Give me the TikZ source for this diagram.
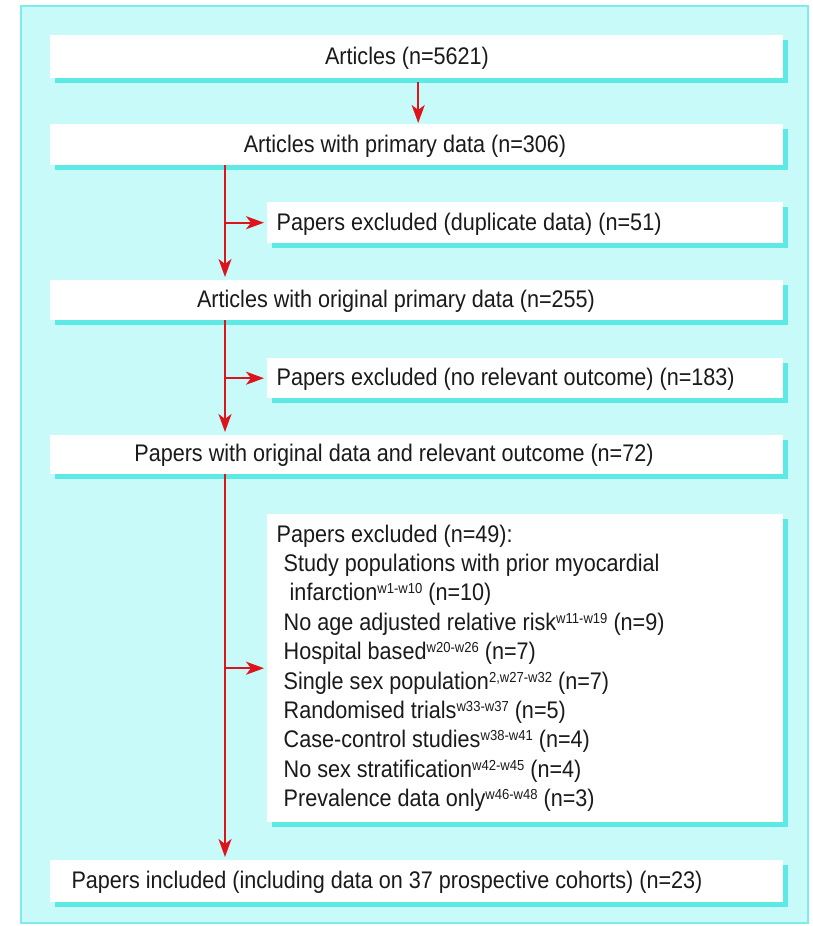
\documentclass[tikz,border=0pt]{standalone}
\usepackage{fontspec}
\setmainfont{Liberation Sans}[FakeStretch=0.9]
\usetikzlibrary{arrows.meta,shadows}
\definecolor{panelfill}{HTML}{C8FAFA}
\definecolor{panelline}{HTML}{80EBE9}
\definecolor{shadowcyan}{HTML}{5DE9E4}
\definecolor{arrred}{HTML}{DE141C}
\definecolor{txtcol}{HTML}{1A1A1A}
\newcommand\wsup[1]{\raisebox{7pt}{\fontsize{14.5}{14.5}\selectfont #1}}
\tikzset{
  box/.style={draw=none, fill=white, inner sep=0pt, anchor=north west,
    drop shadow={shadow xshift=5pt, shadow yshift=-5pt, fill=shadowcyan, opacity=1}},
  txt/.style={inner sep=0pt, text=txtcol, font=\fontsize{24}{29.4}\selectfont},
  arr/.style={draw=arrred, line width=2pt, -{Stealth[length=18pt,width=13pt,inset=5pt]}},
}
\begin{document}
\begin{tikzpicture}[x=1pt,y=-1pt]
\useasboundingbox (0,0) rectangle (812,926);
\fill[white] (0,0) rectangle (812,926);
\draw[fill=panelfill, draw=panelline, line width=2pt] (21,6) rectangle (808,923);

% boxes
\node[box, minimum width=733pt, minimum height=43pt] (b1) at (50,35) {};
\node[box, minimum width=733pt, minimum height=41pt] (b2) at (50,124) {};
\node[box, minimum width=516pt, minimum height=41pt] (b3) at (267,202) {};
\node[box, minimum width=733pt, minimum height=40pt] (b4) at (50,280) {};
\node[box, minimum width=516pt, minimum height=40pt] (b5) at (267,358) {};
\node[box, minimum width=733pt, minimum height=39pt] (b6) at (50,435) {};
\node[box, minimum width=516pt, minimum height=308pt] (b7) at (267,514) {};
\node[box, minimum width=733pt, minimum height=42pt] (b8) at (50,860) {};

% texts
\node[txt, anchor=base] (t1) at (407,64) {Articles (n=5621)};
\node[txt, anchor=base] (t2) at (405,152) {Articles with primary data (n=306)};
\node[txt, anchor=base west] (t3) at (276.5,230) {Papers excluded (duplicate data) (n=51)};
\node[txt, anchor=base] (t4) at (396,307.5) {Articles with original primary data (n=255)};
\node[txt, anchor=base west] (t5) at (276.5,385.5) {Papers excluded (no relevant outcome) (n=183)};
\node[txt, anchor=base] (t6) at (394,461.5) {Papers with original data and relevant outcome (n=72)};
\node[txt, anchor=base] (t8) at (387,888.5) {Papers included (including data on 37 prospective cohorts) (n=23)};

\node[txt, anchor=base west] (l1) at (276.5,542) {Papers excluded (n=49):};
\node[txt, anchor=base west] (l2) at (283.5,571.4) {Study populations with prior myocardial};
\node[txt, anchor=base west] (l3) at (289.5,600.8) {infarction\wsup{w1-w10} (n=10)};
\node[txt, anchor=base west] (l4) at (283.5,630.2) {No age adjusted relative risk\wsup{w11-w19} (n=9)};
\node[txt, anchor=base west] (l5) at (283.5,659.6) {Hospital based\wsup{w20-w26} (n=7)};
\node[txt, anchor=base west] (l6) at (283.5,689) {Single sex population\wsup{2,w27-w32} (n=7)};
\node[txt, anchor=base west] (l7) at (283.5,718.4) {Randomised trials\wsup{w33-w37} (n=5)};
\node[txt, anchor=base west] (l8) at (283.5,747.8) {Case-control studies\wsup{w38-w41} (n=4)};
\node[txt, anchor=base west] (l9) at (283.5,777.2) {No sex stratification\wsup{w42-w45} (n=4)};
\node[txt, anchor=base west] (l10) at (283.5,806.6) {Prevalence data only\wsup{w46-w48} (n=3)};

% connectors
\coordinate (tr) at (225,0);
\draw[arr, shorten >=1pt] ([xshift=1.5pt,yshift=-4pt]b1.south) -- ([xshift=1.5pt]b2.north);
\draw[arr, shorten >=3pt] (b2.south -| tr) -- (b4.north -| tr);
\draw[arr, shorten >=3pt] (tr |- b3.west) -- (b3.west);
\draw[arr, shorten >=3pt] (b4.south -| tr) -- (b6.north -| tr);
\draw[arr, shorten >=3pt] (tr |- b5.west) -- (b5.west);
\draw[arr, shorten >=3pt] (b6.south -| tr) -- (b8.north -| tr);
\draw[arr, shorten >=3pt] (tr |- b7.west) -- (b7.west);
\end{tikzpicture}
\end{document}
